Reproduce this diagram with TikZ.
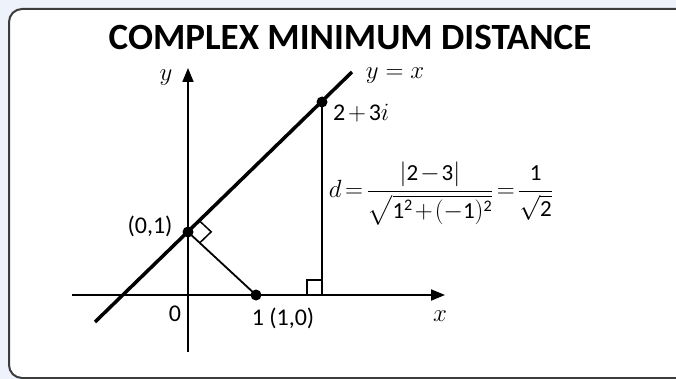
\documentclass[tikz,border=0pt]{standalone}
\usepackage{amsmath}
\usepackage{fontspec}
\setmainfont{Carlito}
\newcommand{\dg}[1]{\text{#1}}
\usetikzlibrary{arrows.meta}
\definecolor{bgblue}{HTML}{EEF3FB}
\definecolor{framegray}{HTML}{3C3C3C}
\tikzset{
  axis/.style={line width=2pt,-{Triangle[length=14pt,width=11pt]}},
  thinline/.style={line width=1.8pt},
  thickline/.style={line width=3.5pt},
  dot/.style={circle,fill=black,inner sep=0pt,minimum size=11pt},
  lbl/.style={inner sep=0pt,font=\fontsize{24}{28}\selectfont},
  ramark/.style={line width=1.5pt}
}
\begin{document}
\begin{tikzpicture}[x=1pt,y=-1pt]
\useasboundingbox (0,0) rectangle (676,379);
\clip (0,0) rectangle (676,379);
\fill[bgblue] (0,0) rectangle (676,379);
\draw[rounded corners=13pt,line width=2pt,draw=framegray,fill=white] (9,9) rectangle (760,378);
% title
\node[inner sep=0pt,font=\bfseries\fontsize{37}{40}\selectfont] (title) at (350,38) {COMPLEX MINIMUM DISTANCE};
% points
\coordinate (O) at (188,295);
\coordinate (xl) at (72,295);
\coordinate (xr) at (445,295);
\coordinate (yb) at (188,352);
\coordinate (yt) at (188,68);
\coordinate (L1) at (95,322);
\coordinate (L2) at (352,72);
\coordinate (F) at (322,295);
% axes
\draw[axis] (xl) -- (xr);
\draw[axis] (yb) -- (yt);
% line y=x
\draw[thickline] (L1) -- (L2);
\node[dot] (A) at (188,232) {};
\node[dot] (B) at (256,295) {};
\node[dot] (P) at (322,102) {};
% perpendiculars
\draw[thinline] (A.center) -- (B.center);
\draw[thinline] (P.center) -- (F);
% right angle markers
\draw[ramark] (199.5,220.9) -- (211.2,231.8) -- (199.7,242.9);
\draw[ramark] (307,295) -- (307,280) -- (322,280);
% labels
\node[lbl] (ylbl) at (166,78) {$y$};
\node[lbl] (xlbl) at (440,316) {$x$};
\node[lbl] (eqlbl) at (395,76) {$y=x$};
\node[lbl,anchor=west] (plbl) at (333,113) {$\medmuskip=2mu \dg{2}+\dg{3}i$};
\node[lbl] (albl) at (150,226) {(0,1)};
\node[lbl] (olbl) at (175,314) {0};
\node[lbl] (blbl) at (283,318) {1 (1,0)};
\node[lbl,font=\fontsize{23}{27}\selectfont] (formula) at (441,194) {$\medmuskip=1.5mu\thickmuskip=2.5mu d=\dfrac{|\dg{2}-\dg{3}|}{\sqrt{\dg{1}^{\dg{2}}+(-\dg{1})^{\dg{2}}}}=\dfrac{\dg{1}}{\sqrt{\dg{2}}}$};
\end{tikzpicture}
\end{document}
